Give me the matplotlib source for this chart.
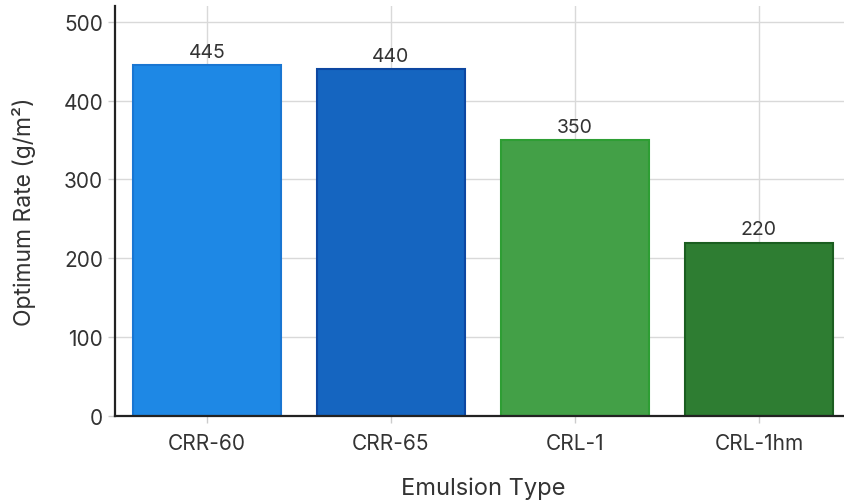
import matplotlib
matplotlib.use("Agg")
import matplotlib.pyplot as plt

emulsions = ["CRR-60", "CRR-65", "CRL-1", "CRL-1hm"]
optimum_rate = [445, 440, 350, 220]
face_colors = ["#1E88E5", "#1565C0", "#43A047", "#2E7D32"]
edge_colors = ["#1976D2", "#0D47A1", "#2E9E34", "#1B5E20"]
y_ticks = [0, 100, 200, 300, 400, 500]

plt.rcParams["font.family"] = ["Inter", "DejaVu Sans"]

W, H = 845, 502
fig = plt.figure(figsize=(W / 100, H / 100), dpi=100)
left, right, bottom, top = 115, 851, 417, 7
ax = fig.add_axes([left / W, (H - bottom) / H, (right - left) / W, (bottom - top) / H])

x = range(len(emulsions))
bars = ax.bar(x, optimum_rate, width=0.8, color=face_colors,
              edgecolor=edge_colors, linewidth=1.5, zorder=3)

for xi, v in zip(x, optimum_rate):
    ax.annotate(f"{v}", (xi, v), xytext=(0, 3), textcoords="offset points",
                ha="center", va="bottom", fontsize=14, color="#333333", zorder=4)

ax.set_xlim(-0.5, 3.5)
ax.set_ylim(0, 520)
ax.set_xticks(list(x))
ax.set_xticklabels(emulsions)
ax.set_yticks(y_ticks)

ax.grid(True, color="#d9d9d9", linewidth=1.0, zorder=0)
ax.set_axisbelow(True)

for s in ("top", "right"):
    ax.spines[s].set_visible(False)
for s in ("left", "bottom"):
    ax.spines[s].set_color("#222222")
    ax.spines[s].set_linewidth(1.6)
    ax.spines[s].set_zorder(5)

ax.tick_params(axis="both", colors="#cccccc", labelcolor="#333333",
               labelsize=15, length=5, width=1)
ax.tick_params(axis="x", pad=7)

ax.set_xlabel("Emulsion Type", fontsize=17, color="#333333", labelpad=17)
ax.set_ylabel("Optimum Rate (g/m²)", fontsize=16.5, color="#333333", labelpad=20)

fig.savefig("out.png", dpi=100, facecolor="white")
